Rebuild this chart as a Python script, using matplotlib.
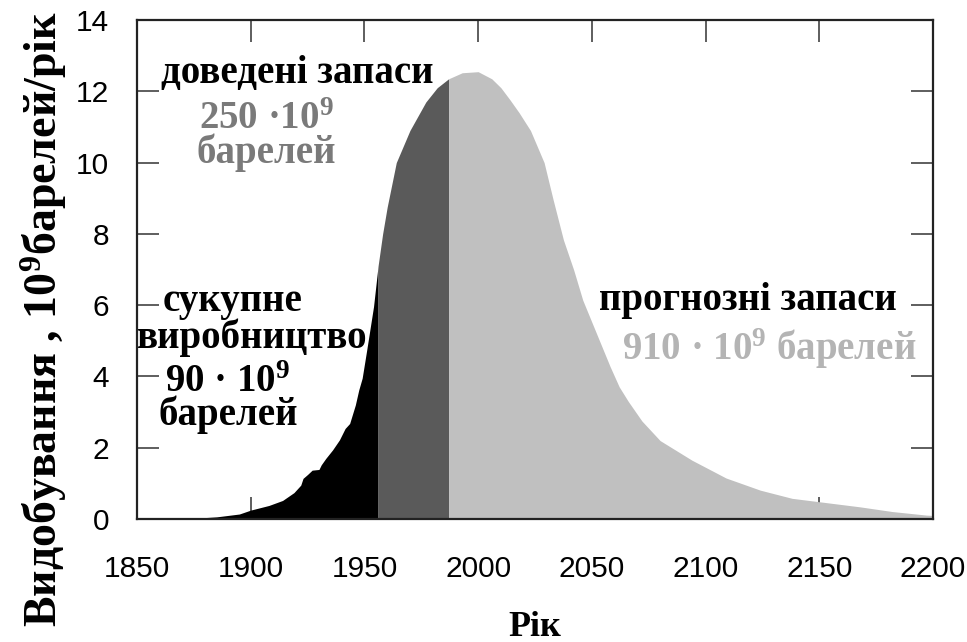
import numpy as np
import matplotlib.pyplot as plt

plt.rcParams['mathtext.fontset'] = 'custom'
plt.rcParams['mathtext.rm'] = 'Liberation Serif:bold'
plt.rcParams['mathtext.it'] = 'Liberation Serif:bold'
plt.rcParams['mathtext.bf'] = 'Liberation Serif:bold'

# ---------- data ----------
years = np.array([1850, 1865, 1875, 1885, 1895, 1900, 1908, 1914, 1919, 1922,
                  1923, 1925, 1927, 1930, 1931, 1933, 1936, 1939, 1941.5, 1943.5,
                  1946, 1947.5, 1949, 1951, 1954, 1956, 1958, 1960, 1964, 1970,
                  1977, 1982, 1987, 1993, 2000, 2006, 2010, 2014, 2018, 2023,
                  2029, 2033, 2037.5, 2042, 2046, 2052, 2058, 2062, 2066, 2072,
                  2080, 2094, 2109, 2124, 2138, 2153, 2168, 2182, 2197, 2200])
output = np.array([0.0, 0.0, 0.02, 0.06, 0.14, 0.25, 0.38, 0.52, 0.74, 0.95,
                   1.14, 1.25, 1.37, 1.39, 1.52, 1.70, 1.94, 2.22, 2.54, 2.68,
                   3.20, 3.62, 3.95, 4.74, 5.96, 7.10, 8.00, 8.75, 10.0, 10.9,
                   11.7, 12.1, 12.35, 12.52, 12.55, 12.35, 12.1, 11.76, 11.4, 10.9,
                   10.0, 8.95, 7.83, 6.99, 6.14, 5.21, 4.28, 3.71, 3.30, 2.75,
                   2.20, 1.65, 1.15, 0.81, 0.58, 0.46, 0.34, 0.21, 0.11, 0.10])

produced_until = 1956
proved_until = 1987

serif = 'Liberation Serif'

fig = plt.figure(figsize=(9.67, 6.42), dpi=100)
ax = fig.add_axes([137/967, 1 - 519/642, 796/967, 499/642])

m1 = years <= produced_until
m2 = (years >= produced_until) & (years <= proved_until)
m3 = years >= proved_until
ax.fill_between(years[m1], 0, output[m1], color='black', lw=0)
ax.fill_between(years[m2], 0, output[m2], color='#5a5a5a', lw=0)
ax.fill_between(years[m3], 0, output[m3], color='#c0c0c0', lw=0)

ax.set_xlim(1850, 2200)
ax.set_ylim(0, 14)
ax.set_xticks(np.arange(1850, 2201, 50))
ax.set_yticks(np.arange(0, 15, 2))
ax.set_axisbelow(True)
ax.tick_params(direction='in', length=16, width=1.1, top=True, right=True,
               labelsize=21.5, color='#333333')
ax.tick_params(axis='x', pad=26)
ax.tick_params(axis='y', pad=20)
for lab in ax.get_xticklabels() + ax.get_yticklabels():
    lab.set_fontfamily('Liberation Sans')
for sp in ax.spines.values():
    sp.set_linewidth(1.6)
    sp.set_color('#222222')

ax.set_xlabel('Рік', fontfamily=serif, fontweight='bold', fontsize=26, labelpad=20)
ax.set_ylabel('Видобування , 10$^9$барелей/рік', fontfamily=serif,
              fontweight='bold', fontsize=33)
ax.yaxis.set_label_coords(-0.086, 0.40)

big = dict(fontfamily=serif, fontweight='bold', fontsize=28, ha='center', va='baseline')
ax.text(1920.4, 12.23, 'доведені запаси', color='black', **big)
ax.text(1906.7, 10.94, '250 ·10$^9$', color='#7a7a7a', **big)
ax.text(1906.7, 9.99, 'барелей', color='#7a7a7a', **big)

ax.text(1891.8, 5.84, 'сукупне', color='black', **big)
ax.text(1900.8, 4.80, 'виробництво', color='black', **big)
ax.text(1890.0, 3.56, '90 · 10$^9$', color='black', **big)
ax.text(1890.0, 2.64, 'барелей', color='black', **big)

ax.text(2118.4, 5.86, 'прогнозні запаси', color='black', **big)
ax.text(2127.9, 4.46, '910 · 10$^9$ барелей', color='#b4b4b4', **big)

fig.savefig('out.png', dpi=100)
